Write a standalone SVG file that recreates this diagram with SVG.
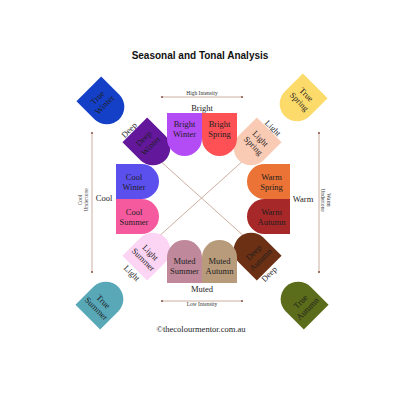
<svg xmlns="http://www.w3.org/2000/svg" width="404" height="404" viewBox="0 0 404 404">
<style>
.t{font-family:"Liberation Serif","DejaVu Serif",serif;font-size:8.5px;fill:#1e1e1e;text-anchor:middle}
.s{font-family:"Liberation Serif","DejaVu Serif",serif;font-size:5.5px;fill:#333;text-anchor:middle}
.ln{stroke:#cdaea2;stroke-width:1;fill:none}
.dot{fill:#8e5c4c}
.title{font-family:"Liberation Sans","Arial",sans-serif;font-weight:bold;font-size:10px;fill:#111;text-anchor:middle}
</style>
<defs>
<path id="tomb" d="M-17.5,-21.5 H17.5 V4 A17.5,17.5 0 0 1 -17.5,4 Z"/>
</defs>
<rect width="404" height="404" fill="#fff"/>
<text class="title" x="200" y="58.5">Seasonal and Tonal Analysis</text>

<g id="connectors">
<line class="ln" x1="162" y1="97" x2="242" y2="97"/>
<circle class="dot" cx="162" cy="97" r="1.1"/><circle class="dot" cx="242" cy="97" r="1.1"/>
<line class="ln" x1="162" y1="301" x2="242" y2="301"/>
<circle class="dot" cx="162" cy="301" r="1.1"/><circle class="dot" cx="242" cy="301" r="1.1"/>
<line class="ln" x1="92" y1="133" x2="92" y2="272"/>
<circle class="dot" cx="92" cy="133" r="1.1"/><circle class="dot" cx="92" cy="272" r="1.1"/>
<line class="ln" x1="319" y1="133" x2="319" y2="272"/>
<circle class="dot" cx="319" cy="133" r="1.1"/><circle class="dot" cx="319" cy="272" r="1.1"/>
<line class="ln" x1="158" y1="159" x2="246" y2="238"/>
<line class="ln" x1="157" y1="238" x2="245" y2="159"/>
</g>

<text class="s" x="202" y="95.2">High Intensity</text>
<text class="s" x="202" y="306">Low Intensity</text>
<text class="t" x="202" y="110.5">Bright</text>
<text class="t" x="202" y="292">Muted</text>
<text class="t" x="104" y="201">Cool</text>
<text class="t" x="303" y="202">Warm</text>
<text class="s" transform="translate(80,200) rotate(-90)"><tspan x="0" y="1.5">Cool</tspan><tspan x="0" y="8">Undertone</tspan></text>
<text class="s" transform="translate(328,200) rotate(90)"><tspan x="0" y="1.5">Warm</tspan><tspan x="0" y="7.5">Undertone</tspan></text>
<text class="t" transform="translate(129,130) rotate(-45)" y="3">Deep</text>
<text class="t" transform="translate(273,128) rotate(45)" y="3">Light</text>
<text class="t" transform="translate(132,273) rotate(45)" y="3">Light</text>
<text class="t" transform="translate(269,274) rotate(-45)" y="3">Deep</text>

<g id="true-winter">
<use href="#tomb" transform="translate(104,104) rotate(-45)" fill="#1440c8"/>
<text class="t" transform="translate(101,101) rotate(-45)"><tspan x="0" y="-2">True</tspan><tspan x="0" y="8">Winter</tspan></text>
</g>
<g id="true-spring">
<use href="#tomb" transform="translate(300,101) rotate(45)" fill="#fcdb6b"/>
<text class="t" transform="translate(303,98) rotate(45)"><tspan x="0" y="-2">True</tspan><tspan x="0" y="8">Spring</tspan></text>
</g>
<g id="true-summer">
<use href="#tomb" transform="translate(103,302) rotate(-135)" fill="#58a8b8"/>
<text class="t" transform="translate(100,305) rotate(45)"><tspan x="0" y="-2">True</tspan><tspan x="0" y="8">Summer</tspan></text>
</g>
<g id="true-autumn">
<use href="#tomb" transform="translate(301,302) rotate(135)" fill="#5b6c1a"/>
<text class="t" transform="translate(304,305) rotate(-45)"><tspan x="0" y="-2">True</tspan><tspan x="0" y="8">Autumn</tspan></text>
</g>
<g id="deep-winter">
<use href="#tomb" transform="translate(150,145) rotate(-45)" fill="#63189c"/>
<text class="t" transform="translate(147,142) rotate(-45)"><tspan x="0" y="-2">Deep</tspan><tspan x="0" y="8">Winter</tspan></text>
</g>
<g id="light-spring">
<use href="#tomb" transform="translate(254,145) rotate(45)" fill="#f9cbb5"/>
<text class="t" transform="translate(257,142) rotate(45)"><tspan x="0" y="-2">Light</tspan><tspan x="0" y="8">Spring</tspan></text>
</g>
<g id="light-summer">
<use href="#tomb" transform="translate(150,253) rotate(-135)" fill="#fcd4f4"/>
<text class="t" transform="translate(147,256) rotate(45)"><tspan x="0" y="-2">Light</tspan><tspan x="0" y="8">Summer</tspan></text>
</g>
<g id="deep-autumn">
<use href="#tomb" transform="translate(254,253) rotate(135)" fill="#6c3014"/>
<text class="t" transform="translate(257,256) rotate(-45)"><tspan x="0" y="-2">Deep</tspan><tspan x="0" y="8">Autumn</tspan></text>
</g>
<g id="bright-winter">
<use href="#tomb" transform="translate(184.5,134.5)" fill="#b44cf6"/>
<text class="t" transform="translate(184.5,128.5)"><tspan x="0" y="-2">Bright</tspan><tspan x="0" y="8">Winter</tspan></text>
</g>
<g id="bright-spring">
<use href="#tomb" transform="translate(219.5,134.5)" fill="#fd5155"/>
<text class="t" transform="translate(219.5,128.5)"><tspan x="0" y="-2">Bright</tspan><tspan x="0" y="8">Spring</tspan></text>
</g>
<g id="cool-winter">
<use href="#tomb" transform="translate(137.5,181.5) rotate(-90)" fill="#5b50ee"/>
<text class="t" transform="translate(134,181.5)"><tspan x="0" y="-2">Cool</tspan><tspan x="0" y="8">Winter</tspan></text>
</g>
<g id="cool-summer">
<use href="#tomb" transform="translate(137.5,216.5) rotate(-90)" fill="#f65a9e"/>
<text class="t" transform="translate(134,216.5)"><tspan x="0" y="-2">Cool</tspan><tspan x="0" y="8">Summer</tspan></text>
</g>
<g id="warm-spring">
<use href="#tomb" transform="translate(268.5,181.5) rotate(90)" fill="#ea7335"/>
<text class="t" transform="translate(271.5,181.5)"><tspan x="0" y="-2">Warm</tspan><tspan x="0" y="8">Spring</tspan></text>
</g>
<g id="warm-autumn">
<use href="#tomb" transform="translate(268.5,216.5) rotate(90)" fill="#a72828"/>
<text class="t" transform="translate(271.5,216.5)"><tspan x="0" y="-2">Warm</tspan><tspan x="0" y="8">Autumn</tspan></text>
</g>
<g id="muted-summer">
<use href="#tomb" transform="translate(184.5,261.5) rotate(180)" fill="#c0899b"/>
<text class="t" transform="translate(184.5,266)"><tspan x="0" y="-2">Muted</tspan><tspan x="0" y="8">Summer</tspan></text>
</g>
<g id="muted-autumn">
<use href="#tomb" transform="translate(219.5,261.5) rotate(180)" fill="#b89b7b"/>
<text class="t" transform="translate(219.5,266)"><tspan x="0" y="-2">Muted</tspan><tspan x="0" y="8">Autumn</tspan></text>
</g>

<text class="t" x="201" y="331.5">©thecolourmentor.com.au</text>
</svg>
